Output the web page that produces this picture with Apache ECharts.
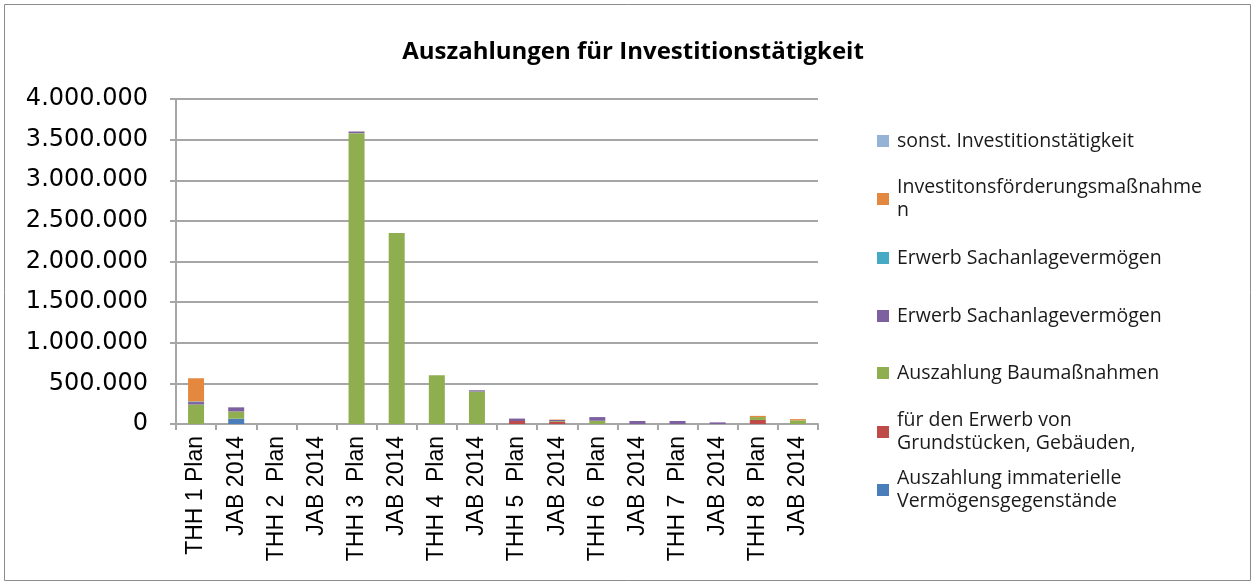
<!DOCTYPE html>
<html>
<head>
<meta charset="utf-8">
<script src="https://cdn.jsdelivr.net/npm/echarts@6/dist/echarts.min.js"></script>
<style>
html,body{margin:0;padding:0;background:#fff;}
#chart{width:1256px;height:584px;}
</style>
</head>
<body>
<div id="chart"></div>
<script>
const categories = ["THH 1 Plan","JAB 2014","THH 2  Plan","JAB 2014","THH 3  Plan","JAB 2014","THH 4  Plan","JAB 2014","THH 5  Plan","JAB 2014","THH 6  Plan","JAB 2014","THH 7  Plan","JAB 2014","THH 8  Plan","JAB 2014"];
const immateriell   = [0, 65000, 0, 0, 0, 0, 0, 0, 0, 0, 0, 0, 0, 0, 0, 0];
const grundstuecke  = [0, 0, 0, 0, 0, 0, 0, 0, 37000, 25000, 0, 0, 0, 0, 50000, 0];
const baumassnahmen = [240000, 90000, 0, 0, 3580000, 2350000, 600000, 400000, 0, 10000, 40000, 0, 0, 0, 35000, 45000];
const sachanlage1   = [30000, 50000, 0, 0, 20000, 0, 0, 15000, 30000, 15000, 45000, 37000, 37000, 20000, 0, 0];
const sachanlage2   = [8000, 0, 0, 0, 0, 0, 0, 0, 0, 0, 0, 0, 0, 0, 0, 0];
const foerderung    = [285000, 0, 0, 0, 0, 0, 0, 0, 0, 5000, 0, 0, 0, 0, 15000, 15000];
const sonstige      = [0, 0, 0, 0, 0, 0, 0, 0, 0, 0, 0, 0, 0, 0, 0, 0];
const yTicks = { min: 0, max: 4000000, interval: 500000 };

const seriesDefs = [
  { name: "Auszahlung immaterielle Vermögensgegenstände", label: "Auszahlung immaterielle\nVermögensgegenstände", data: immateriell, color: "#4A7EBB" },
  { name: "für den Erwerb von Grundstücken, Gebäuden,", label: "für den Erwerb von\nGrundstücken, Gebäuden,", data: grundstuecke, color: "#BE4B48" },
  { name: "Auszahlung Baumaßnahmen", label: "Auszahlung Baumaßnahmen", data: baumassnahmen, color: "#8FAE4F" },
  { name: "Erwerb Sachanlagevermögen", label: "Erwerb Sachanlagevermögen", data: sachanlage1, color: "#7D60A0" },
  { name: "Erwerb Sachanlagevermögen ", label: "Erwerb Sachanlagevermögen", data: sachanlage2, color: "#46AAC5" },
  { name: "Investitonsförderungsmaßnahmen", label: "Investitonsförderungsmaßnahme\nn", data: foerderung, color: "#E5883F" },
  { name: "sonst. Investitionstätigkeit", label: "sonst. Investitionstätigkeit", data: sonstige, color: "#95B3D7" }
];

const fmt = v => String(v).replace(/\B(?=(\d{3})+(?!\d))/g, ".");

const LH = 23;
const legendOrder = [6, 5, 4, 3, 2, 1, 0];
const legendY = [141, 199, 258, 316, 373, 432, 490];
const legends = legendOrder.map((si, k) => {
  const d = seriesDefs[si];
  const multi = d.label.indexOf("\n") >= 0;
  return {
    data: [d.name],
    orient: "vertical",
    left: 877,
    top: multi ? legendY[k] - 1.5 * LH : legendY[k] - LH / 2,
    padding: 0,
    itemWidth: 12,
    itemHeight: 12,
    selectedMode: false,
    icon: "rect",
    formatter: () => d.label,
    textStyle: {
      fontFamily: "Open Sans",
      fontSize: 19.5,
      color: "#1a1a1a",
      lineHeight: LH,
      padding: multi ? [LH, 0, 0, 3] : [0, 0, 0, 3]
    }
  };
});

const chart = echarts.init(document.getElementById("chart"), null, { renderer: "canvas" });
chart.setOption({
  animation: false,
  backgroundColor: "#fff",
  title: {
    text: "Auszahlungen für Investitionstätigkeit",
    left: 628,
    textAlign: "center",
    top: 35,
    textStyle: { fontFamily: "Open Sans", fontWeight: "bold", fontSize: 24, color: "#000" }
  },
  graphic: [{
    type: "rect",
    shape: { x: 4.5, y: 4.5, width: 1246, height: 576 },
    style: { fill: "none", stroke: "#8c8c8c", lineWidth: 1 },
    silent: true
  }],
  legend: legends,
  grid: { left: 176, right: 438, top: 99, bottom: 160, containLabel: false },
  xAxis: {
    type: "category",
    data: categories,
    boundaryGap: true,
    axisLine: { lineStyle: { color: "#a6a6a6", width: 2 } },
    axisTick: { show: true, alignWithLabel: false, length: 6, lineStyle: { color: "#a6a6a6", width: 2 } },
    axisLabel: {
      interval: 0,
      rotate: 90,
      margin: 12,
      fontFamily: "Liberation Sans",
      fontSize: 23,
      color: "#000"
    },
    splitLine: { show: false }
  },
  yAxis: {
    type: "value",
    min: yTicks.min,
    max: yTicks.max,
    interval: yTicks.interval,
    axisLine: { show: true, lineStyle: { color: "#a6a6a6", width: 2 } },
    axisTick: { show: true, length: 6, lineStyle: { color: "#a6a6a6", width: 2 } },
    axisLabel: {
      margin: 28,
      fontFamily: "DejaVu Sans",
      fontSize: 24,
      color: "#000",
      formatter: v => fmt(v)
    },
    splitLine: { show: true, lineStyle: { color: "#a6a6a6", width: 2 } }
  },
  series: seriesDefs.map(d => ({
    name: d.name,
    type: "bar",
    stack: "total",
    barWidth: 16,
    data: d.data,
    itemStyle: { color: d.color },
    emphasis: { disabled: true }
  }))
});
</script>
</body>
</html>
